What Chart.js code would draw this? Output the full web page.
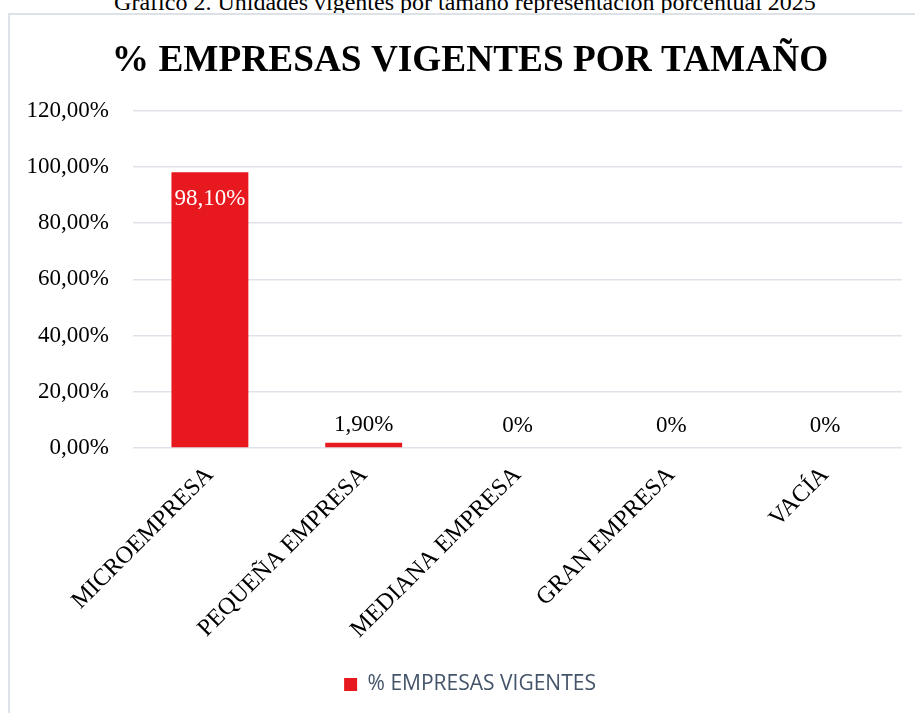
<!DOCTYPE html>
<html lang="es">
<head>
<meta charset="utf-8">
<title>% Empresas vigentes por tamaño</title>
<script src="https://cdn.jsdelivr.net/npm/chart.js@4.4.1/dist/chart.umd.min.js"></script>
<style>
    html, body { margin: 0; padding: 0; background: #fff; overflow: hidden; }
    #page { position: relative; width: 915px; height: 713px; overflow: hidden; }
    .caption {
        position: absolute; left: 0; top: -10px; width: 930px;
        text-align: center; white-space: nowrap;
        font: 24px/24px 'Liberation Serif', serif; color: #000;
    }
    .frame {
        position: absolute; left: 8px; top: 13px; width: 1000px; height: 1000px;
        border: 2px solid #dde2e8; box-sizing: border-box;
    }
    /* the chart frame is wider than the window; its right part is cut off */
    #chartBox { position: absolute; left: 0; top: 0; width: 940px; height: 713px; }
</style>
</head>
<body>
<div id="page">
    <div class="caption">Gráfico 2. Unidades vigentes por tamaño representación porcentual 2025</div>
    <div class="frame"></div>
    <div id="chartBox"><canvas id="empChart"></canvas></div>
</div>
<script>
(function() {
    'use strict';

    const CATEGORIES = ['MICROEMPRESA', 'PEQUEÑA EMPRESA', 'MEDIANA EMPRESA', 'GRAN EMPRESA', 'VACÍA'];
    const VALUES = [98.1, 1.9, 0, 0, 0];
    const SERIES_LABEL = '% EMPRESAS VIGENTES';
    const TITLE = '% EMPRESAS VIGENTES POR TAMAÑO';
    const Y_MIN = 0, Y_MAX = 120, Y_STEP = 20;

    const RED = '#e8191e';
    const SERIF = 'Liberation Serif';

    function tickPct(v) {
        return v.toFixed(2).replace('.', ',') + '%';
    }
    function labelPct(v) {
        return v === 0 ? '0%' : v.toFixed(2).replace('.', ',') + '%';
    }

    // value labels: inside the tall bar, above the short ones
    const barLabels = {
        id: 'barLabels',
        afterDatasetsDraw: function(chart) {
            const ctx = chart.ctx;
            const meta = chart.getDatasetMeta(0);
            ctx.save();
            ctx.font = '23px "' + SERIF + '"';
            ctx.textAlign = 'center';
            ctx.textBaseline = 'middle';
            meta.data.forEach(function(bar, i) {
                const v = VALUES[i];
                if (v > 50) {
                    ctx.fillStyle = '#fff';
                    ctx.fillText(labelPct(v), bar.x, bar.y + 27);
                } else {
                    ctx.fillStyle = '#000';
                    ctx.fillText(labelPct(v), bar.x, Math.min(bar.y - 17, bar.base - 22));
                }
            });
            ctx.restore();
        }
    };

    new Chart(document.getElementById('empChart'), {
        type: 'bar',
        data: {
            labels: CATEGORIES,
            datasets: [{
                label: SERIES_LABEL,
                data: VALUES,
                backgroundColor: RED,
                borderWidth: 0,
                categoryPercentage: 1,
                barPercentage: 0.5
            }]
        },
        plugins: [barLabels],
        options: {
            responsive: true,
            maintainAspectRatio: false,
            animation: false,
            layout: { padding: { left: 0, right: 0, top: 0, bottom: 8 } },
            plugins: {
                title: {
                    display: true,
                    text: TITLE,
                    color: '#000',
                    font: { family: SERIF, size: 37.3, weight: 'bold', lineHeight: 1.2 },
                    padding: { top: 39, bottom: 27 }
                },
                legend: {
                    position: 'bottom',
                    labels: {
                        boxWidth: 13,
                        boxHeight: 13,
                        color: '#44546a',
                        font: { family: 'Open Sans', size: 21 }
                    }
                },
                tooltip: { enabled: false }
            },
            scales: {
                x: {
                    grid: { display: false },
                    border: { display: false },
                    ticks: {
                        color: '#000',
                        font: { family: SERIF, size: 24 },
                        minRotation: 45,
                        maxRotation: 45,
                        padding: 5
                    },
                    afterFit: function(s) { s.height = 216; }
                },
                y: {
                    min: Y_MIN,
                    max: Y_MAX,
                    ticks: {
                        stepSize: Y_STEP,
                        color: '#000',
                        padding: 24,
                        font: { family: SERIF, size: 23 },
                        callback: function(v) { return tickPct(v); }
                    },
                    grid: { color: '#dfe3e9', lineWidth: 1.5, drawTicks: false },
                    border: { display: false },
                    afterFit: function(s) { s.width = 133; }
                },
                // empty right margin inside the frame (no ticks, no lines)
                margin: {
                    position: 'right',
                    grid: { display: false },
                    border: { display: false },
                    ticks: { display: false },
                    afterFit: function(s) { s.width = 38; }
                }
            }
        }
    });
})();
</script>
</body>
</html>
